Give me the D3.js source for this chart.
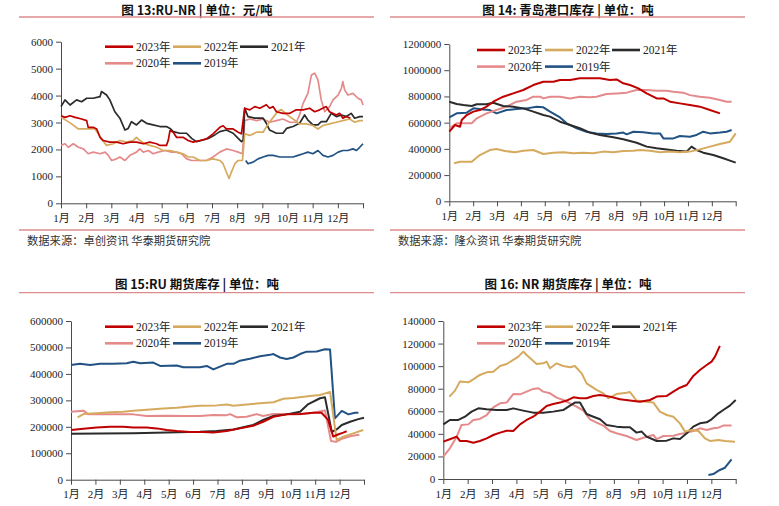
<!DOCTYPE html>
<html><head><meta charset="utf-8">
<script src="https://cdn.jsdelivr.net/npm/d3@7"></script>
<style>
body{margin:0;background:#fff;}
svg{display:block;}
</style></head>
<body>
<svg id="c" width="779" height="506"></svg>
<script>
// ---------- DATA (x = month offset from 1月 start, y = value) ----------
const monthLabels = ["1月","2月","3月","4月","5月","6月","7月","8月","9月","10月","11月","12月"];
const seriesNames = ["2023年","2022年","2021年","2020年","2019年"];
const seriesColors = ["#c00000","#d6aa5e","#2b2b2b","#e58a8b","#215283"];

// Fig 13: RU-NR spread (元/吨)
const p1_2023 = [[0,3250],[0.16,3190],[0.36,3250],[0.56,3190],[0.82,3130],[1.02,3070],[1.08,2820],[1.28,2820],[1.42,2760],[1.55,2450],[1.68,2330],[1.94,2270],[2.21,2270],[2.47,2210],[2.74,2270],[3.0,2270],[3.27,2210],[3.53,2270],[3.8,2210],[3.93,2150],[4.19,2150],[4.26,2330],[4.33,2700],[4.46,2640],[4.59,2450],[4.85,2450],[5.05,2330],[5.25,2270],[5.52,2330],[5.78,2390],[6.04,2580],[6.31,2820],[6.44,2880],[6.57,2760],[6.84,2760],[7.04,2640],[7.17,2580],[7.3,3530],[7.5,3470],[7.7,3590],[7.9,3530],[8.16,3660],[8.29,3530],[8.43,3590],[8.56,3400],[8.82,3340],[9.09,3340],[9.35,3470],[9.62,3470],[9.88,3530],[10.08,3400],[10.28,3470],[10.54,3590],[10.67,3400],[10.94,3280],[11.07,3340],[11.2,3160],[11.34,3220],[11.5,3160]];
const p1_2022 = [[0,3190],[0.22,3070],[0.42,2950],[0.69,2760],[1.02,2760],[1.35,2760],[1.48,2580],[1.61,2390],[1.81,2150],[2.08,2210],[2.34,2330],[2.61,2270],[2.87,2330],[3.0,2450],[3.13,2330],[3.33,2210],[3.53,2150],[3.8,2080],[4.06,1960],[4.33,1960],[4.59,1900],[4.85,1840],[5.05,1720],[5.25,1720],[5.52,1590],[5.78,1590],[6.04,1650],[6.31,1590],[6.44,1470],[6.57,1160],[6.68,920],[6.77,1160],[6.91,1470],[7.04,1590],[7.21,1590],[7.3,2580],[7.5,2520],[7.77,2640],[8.03,2640],[8.23,2950],[8.43,3190],[8.63,3430],[8.76,3480],[8.96,3300],[9.22,3130],[9.48,2950],[9.75,2950],[10.01,2890],[10.21,2760],[10.41,2890],[10.67,2950],[10.94,3010],[11.2,3070],[11.47,3130],[11.67,3010],[11.87,3070],[12,3070]];
const p1_2021 = [[0,3590],[0.16,3840],[0.36,3650],[0.62,3840],[0.82,3770],[1.02,3900],[1.28,3900],[1.55,3960],[1.61,4150],[1.81,4020],[1.94,3840],[2.14,3400],[2.34,3160],[2.54,2720],[2.67,2780],[2.8,3030],[3.0,2910],[3.2,3090],[3.4,2970],[3.66,2910],[3.93,2850],[4.19,2850],[4.33,2780],[4.46,2660],[4.72,2600],[4.99,2600],[5.19,2410],[5.38,2290],[5.65,2350],[5.85,2410],[6.11,2540],[6.31,2660],[6.57,2720],[6.84,2600],[7.04,2410],[7.17,2290],[7.24,2350],[7.3,3530],[7.43,3220],[7.7,3160],[8.03,3160],[8.16,2970],[8.29,2720],[8.56,2600],[8.82,2600],[8.96,2780],[9.22,2850],[9.48,2970],[9.68,3280],[9.81,3090],[10.01,2910],[10.21,2910],[10.34,3030],[10.54,3030],[10.74,3340],[10.94,3220],[11.14,3280],[11.34,3220],[11.53,3340],[11.67,3160],[11.87,3220],[12,3220]];
const p1_2020 = [[0,2150],[0.16,2210],[0.29,2080],[0.49,2210],[0.69,2080],[0.89,2020],[1.08,1840],[1.28,1900],[1.55,1840],[1.75,1900],[1.88,1780],[2.01,1590],[2.21,1650],[2.34,1720],[2.54,1590],[2.74,1780],[2.87,1840],[3.0,1900],[3.13,2020],[3.27,1900],[3.47,1960],[3.66,1840],[3.86,1900],[4.13,1960],[4.39,1900],[4.59,1900],[4.79,1840],[4.99,1650],[5.19,1590],[5.45,1590],[5.78,1590],[6.04,1720],[6.31,1900],[6.57,2020],[6.84,1960],[7.04,1900],[7.21,1840],[7.3,3070],[7.5,3130],[7.77,3070],[8.03,3130],[8.29,3010],[8.56,3070],[8.82,3130],[9.09,3010],[9.35,3010],[9.48,3280],[9.62,3710],[9.81,4080],[9.95,4760],[10.08,4830],[10.21,4580],[10.34,3840],[10.48,3400],[10.67,3590],[10.81,3840],[11.01,4020],[11.14,4270],[11.2,4520],[11.27,4210],[11.4,4020],[11.6,4080],[11.8,3900],[11.93,3840],[12,3650]];
const p1_2019 = [[7.34,1590],[7.43,1470],[7.63,1530],[7.83,1650],[8.03,1720],[8.23,1780],[8.43,1780],[8.69,1720],[8.96,1720],[9.22,1720],[9.42,1780],[9.62,1840],[9.81,1900],[10.01,1840],[10.21,1960],[10.41,1780],[10.61,1720],[10.81,1780],[11.01,1900],[11.2,1960],[11.4,1960],[11.6,2020],[11.74,1960],[11.87,2080],[12,2210]];
const p1_yTicks = [0,1000,2000,3000,4000,5000,6000];

// Fig 14: Qingdao port inventory (吨)
const p2_2023 = [[0,531000],[0.24,582000],[0.45,569000],[0.52,620000],[0.73,658000],[1.01,684000],[1.28,696000],[1.56,722000],[1.84,760000],[2.26,798000],[2.68,823000],[3.1,849000],[3.52,887000],[3.94,912000],[4.36,912000],[4.64,925000],[5.06,925000],[5.47,938000],[5.89,938000],[6.31,938000],[6.73,925000],[7.01,930000],[7.29,900000],[7.57,887000],[7.92,861000],[8.27,823000],[8.69,785000],[8.97,785000],[9.25,760000],[9.66,747000],[10.08,734000],[10.5,722000],[10.92,696000],[11.34,671000]];
const p2_2022 = [[0.2,290000],[0.45,302000],[0.94,302000],[1.28,353000],[1.7,391000],[1.98,399000],[2.33,384000],[2.75,374000],[3.1,386000],[3.52,391000],[3.94,361000],[4.36,371000],[4.78,374000],[5.2,366000],[5.61,371000],[6.03,366000],[6.45,379000],[6.87,374000],[7.29,384000],[7.71,386000],[7.99,391000],[8.41,386000],[8.83,374000],[9.25,379000],[9.66,374000],[10.08,379000],[10.5,396000],[10.92,417000],[11.34,437000],[11.76,455000],[12,518000]];
const p2_2021 = [[0,760000],[0.31,742000],[0.59,734000],[0.94,727000],[1.15,740000],[1.56,740000],[1.84,752000],[2.26,727000],[2.68,722000],[3.1,709000],[3.52,684000],[3.94,658000],[4.22,646000],[4.64,607000],[5.06,582000],[5.47,557000],[5.89,524000],[6.31,506000],[6.87,488000],[7.29,473000],[7.85,447000],[8.27,417000],[8.69,404000],[9.11,396000],[9.53,386000],[9.94,379000],[10.15,417000],[10.36,391000],[10.64,371000],[11.06,353000],[11.48,328000],[11.76,310000],[12,295000]];
const p2_2020 = [[0,557000],[0.31,595000],[0.59,595000],[0.94,595000],[1.15,633000],[1.56,671000],[1.98,696000],[2.4,722000],[2.82,760000],[3.24,773000],[3.52,798000],[3.8,798000],[3.94,785000],[4.22,798000],[4.64,798000],[5.06,785000],[5.47,798000],[5.89,793000],[6.17,798000],[6.59,818000],[7.01,823000],[7.43,829000],[7.85,849000],[8.27,849000],[8.69,844000],[9.11,844000],[9.39,836000],[9.8,829000],[10.08,810000],[10.5,798000],[10.92,790000],[11.34,773000],[11.62,760000],[11.83,760000]];
const p2_2019 = [[0,640000],[0.31,671000],[0.73,676000],[1.01,709000],[1.43,701000],[1.7,696000],[1.98,671000],[2.4,696000],[2.82,704000],[3.24,709000],[3.66,722000],[3.94,717000],[4.22,684000],[4.64,640000],[4.92,595000],[5.34,557000],[5.75,531000],[6.17,518000],[6.59,513000],[7.01,518000],[7.29,524000],[7.43,511000],[7.71,531000],[8.13,526000],[8.55,518000],[8.83,518000],[8.97,480000],[9.39,480000],[9.66,498000],[10.08,493000],[10.36,506000],[10.64,531000],[10.92,518000],[11.34,524000],[11.62,531000],[11.83,544000]];
const p2_yTicks = [0,200000,400000,600000,800000,1000000,1200000];

// Fig 15: RU futures inventory (吨)
const p3_2023 = [[0,188000],[0.51,193000],[1.05,197000],[1.6,200000],[2.14,200000],[2.55,197000],[3.1,197000],[3.51,194000],[3.92,188000],[4.33,184000],[4.87,180000],[5.42,180000],[5.83,178000],[6.38,184000],[6.92,194000],[7.46,204000],[7.87,219000],[8.29,238000],[8.83,247000],[9.38,248000],[9.92,253000],[10.26,253000],[10.53,226000],[10.74,163000],[10.88,169000],[11.15,178000],[11.29,183000]];
const p3_2022 = [[0.27,236000],[0.51,248000],[1.05,251000],[1.6,255000],[2.14,257000],[2.55,261000],[3.1,264000],[3.78,269000],[4.33,272000],[4.74,276000],[5.28,280000],[5.96,281000],[6.38,284000],[6.65,280000],[7.19,284000],[7.74,289000],[8.29,293000],[8.7,306000],[9.11,309000],[9.79,316000],[10.2,320000],[10.61,332000],[10.88,150000],[11.15,163000],[11.56,175000],[11.97,188000]];
const p3_2021 = [[0,174000],[1.19,175000],[2.55,176000],[3.92,178000],[5.28,181000],[5.96,184000],[6.65,190000],[7.46,207000],[7.87,226000],[8.29,241000],[8.83,247000],[9.38,257000],[9.72,286000],[10.2,308000],[10.4,312000],[10.68,181000],[10.88,190000],[11.09,207000],[11.43,219000],[11.77,229000],[12,234000]];
const p3_2020 = [[0,257000],[0.51,261000],[0.71,247000],[1.19,247000],[1.87,247000],[2.55,247000],[3.1,241000],[3.92,242000],[4.74,241000],[5.28,241000],[5.83,245000],[6.38,244000],[6.52,248000],[6.79,236000],[7.19,238000],[7.6,248000],[7.87,241000],[8.29,248000],[8.83,248000],[9.38,247000],[9.92,253000],[10.4,262000],[10.65,146000],[10.85,143000],[11.13,156000],[11.47,165000],[11.81,170000]];
const p3_2019 = [[0,434000],[0.37,438000],[0.78,434000],[1.19,438000],[1.73,438000],[2.28,440000],[2.55,446000],[2.83,440000],[3.37,443000],[3.65,430000],[4.33,432000],[4.6,425000],[5.28,425000],[5.56,430000],[5.83,417000],[6.38,438000],[6.65,438000],[6.92,450000],[7.33,457000],[7.74,467000],[8.15,472000],[8.29,475000],[8.56,462000],[8.83,456000],[9.11,462000],[9.38,475000],[9.65,484000],[10.06,485000],[10.4,493000],[10.61,492000],[10.81,232000],[11.09,260000],[11.36,247000],[11.63,253000],[11.77,253000]];
const p3_yTicks = [0,100000,200000,300000,400000,500000,600000];

// Fig 16: NR futures inventory (吨)
const p4_2023 = [[0,33100],[0.27,35200],[0.55,37500],[0.68,33700],[0.96,33700],[1.23,32200],[1.5,33700],[1.78,36000],[2.05,39000],[2.33,41100],[2.6,42800],[2.87,42500],[3.15,48400],[3.42,52300],[3.69,55200],[3.97,59700],[4.24,64700],[4.51,66500],[4.79,67700],[5.06,69500],[5.34,72400],[5.61,71500],[5.88,71500],[6.16,73600],[6.43,74500],[6.84,73000],[7.25,70600],[7.66,69500],[8.07,68500],[8.48,70000],[8.76,73000],[9.17,73600],[9.44,77400],[9.71,80900],[9.99,83300],[10.26,91300],[10.53,96600],[10.81,101000],[11.01,104000],[11.15,108400],[11.35,117900]];
const p4_2022 = [[0.25,73000],[0.48,78300],[0.68,86300],[1.03,85700],[1.23,88300],[1.5,92200],[1.78,94500],[2.05,95100],[2.33,100100],[2.6,101900],[2.87,105500],[3.08,108400],[3.28,112900],[3.42,109900],[3.83,101900],[4.1,102500],[4.24,104000],[4.38,98100],[4.65,102500],[4.92,100100],[5.2,99000],[5.4,100100],[5.68,93600],[5.88,84700],[6.29,78900],[6.57,75900],[6.77,71500],[7.11,75300],[7.52,76500],[7.66,77100],[7.93,69500],[8.34,68500],[8.62,67700],[8.89,59700],[9.17,56700],[9.44,55200],[9.71,49300],[9.92,42000],[10.19,43500],[10.47,42500],[10.74,36000],[10.94,33700],[11.29,34600],[11.56,33700],[11.97,33100]];
const p4_2021 = [[0,48400],[0.27,52300],[0.62,52300],[0.89,55200],[1.16,59700],[1.44,62600],[1.78,61700],[2.19,61100],[2.6,61100],[2.87,62600],[3.28,60600],[3.69,58800],[4.1,58800],[4.51,59700],[4.92,61100],[5.2,65000],[5.4,67700],[5.61,67700],[5.88,57600],[6.16,55200],[6.43,52900],[6.7,47900],[7.11,46400],[7.39,45800],[7.66,45800],[7.93,41100],[8.14,42000],[8.34,37500],[8.76,33700],[9.17,34000],[9.44,36000],[9.71,35400],[9.99,40500],[10.26,46400],[10.53,49300],[10.81,50200],[11.01,52900],[11.29,58200],[11.49,61100],[11.76,65000],[12,70000]];
const p4_2020 = [[0,19800],[0.27,27200],[0.55,37500],[0.75,47900],[1.03,48400],[1.23,52300],[1.5,53200],[1.78,56700],[2.05,63500],[2.33,67100],[2.6,67700],[2.87,75300],[3.15,75000],[3.42,77400],[3.69,79800],[3.9,80400],[4.1,77400],[4.38,75900],[4.65,72100],[4.92,70000],[5.2,67100],[5.47,64100],[5.75,60600],[6.02,52900],[6.29,50000],[6.57,47300],[6.84,42500],[7.11,40500],[7.52,38100],[7.93,34600],[8.21,36600],[8.62,39000],[8.76,35400],[9.03,38100],[9.44,38400],[9.71,39900],[9.99,41100],[10.26,42500],[10.53,44900],[10.81,43500],[11.08,44900],[11.29,45500],[11.49,47300],[11.83,47300]];
const p4_2019 = [[10.88,3500],[11.08,4400],[11.35,8000],[11.56,10000],[11.83,17400]];
const p4_yTicks = [0,20000,40000,60000,80000,100000,120000,140000];

const titles = ["图 13:RU-NR | 单位：元/吨","图 14: 青岛港口库存 | 单位：吨","图 15:RU 期货库存 | 单位：吨","图 16: NR 期货库存 | 单位：吨"];
const sources = ["数据来源：卓创资讯  华泰期货研究院","数据来源：隆众资讯  华泰期货研究院"];

// ---------- LAYOUT ----------
const panels = [
  {title:titles[0], series:[p1_2023,p1_2022,p1_2021,p1_2020,p1_2019], ticks:p1_yTicks, x0:61, x1:363, yT:41.7, yB:203.3, cx:197, ty:14.5, lineY:17, lx0:19, lx1:374, src:sources[0], srcX:27, legX:105, legY:46.7, sw:1.7},
  {title:titles[1], series:[p2_2023,p2_2022,p2_2021,p2_2020,p2_2019], ticks:p2_yTicks, x0:449.3, x1:735.7, yT:44, yB:201.3, cx:568, ty:14.5, lineY:17, lx0:390, lx1:745, src:sources[1], srcX:398, legX:477, legY:50, sw:2},
  {title:titles[2], series:[p3_2023,p3_2022,p3_2021,p3_2020,p3_2019], ticks:p3_yTicks, x0:71, x1:364, yT:321, yB:479.7, cx:197, ty:289, lineY:292.7, lx0:19, lx1:374, src:null, legX:105, legY:326.7, sw:2},
  {title:titles[3], series:[p4_2023,p4_2022,p4_2021,p4_2020,p4_2019], ticks:p4_yTicks, x0:443.3, x1:735.7, yT:321, yB:479, cx:568, ty:289, lineY:292.7, lx0:390, lx1:745, src:null, legX:477, legY:326.7, sw:2}
];

const svg = d3.select("#c");
const serif = "'Liberation Serif','Times New Roman','Noto Sans CJK SC',serif";
const cjk = "'Noto Sans CJK SC','Noto Sans',sans-serif";
const axisColor = "#4a4a4a";

panels.forEach(p => {
  const g = svg.append("g");
  // title
  g.append("text").attr("x", p.cx).attr("y", p.ty).attr("text-anchor","middle")
    .attr("font-family", cjk).attr("font-weight","bold").attr("font-size",12.5).attr("fill","#111")
    .text(p.title);
  g.append("line").attr("x1",p.lx0).attr("x2",p.lx1).attr("y1",p.lineY).attr("y2",p.lineY)
    .attr("stroke","#dc8c8c").attr("stroke-width",1.3);
  if (p.src) {
    g.append("line").attr("x1",p.lx0).attr("x2",p.lx1).attr("y1",230).attr("y2",230)
      .attr("stroke","#dc8c8c").attr("stroke-width",1.3);
    g.append("text").attr("x", p.srcX).attr("y", 245).attr("font-family", cjk)
      .attr("font-size",11.3).attr("fill","#333").text(p.src);
  }

  const x = d3.scaleLinear().domain([0,12]).range([p.x0, p.x1]);
  const ymax = p.ticks[p.ticks.length-1];
  const y = d3.scaleLinear().domain([0, ymax]).range([p.yB, p.yT]);

  const ya = g.append("g").attr("transform",`translate(${p.x0},0)`)
    .call(d3.axisLeft(y).tickValues(p.ticks).tickSize(5).tickSizeOuter(0).tickPadding(3).tickFormat(d3.format("d")));
  const xa = g.append("g").attr("transform",`translate(0,${p.yB})`)
    .call(d3.axisBottom(x).tickValues(d3.range(0,13)).tickSize(5).tickSizeOuter(0).tickPadding(6)
      .tickFormat(d => d < 12 ? monthLabels[d] : ""));
  [ya, xa].forEach(a => {
    a.selectAll("path,line").attr("stroke", axisColor).attr("stroke-width",1);
    a.selectAll("text").attr("font-family", serif).attr("font-size",11).attr("fill","#222");
  });

  const line = d3.line().x(d => x(d[0])).y(d => y(d[1]));
  // draw in reverse so 2023 ends on top
  for (let i = p.series.length-1; i >= 0; i--) {
    g.append("path").datum(p.series[i]).attr("d", line).attr("fill","none")
      .attr("stroke", seriesColors[i]).attr("stroke-width", p.sw).attr("stroke-linejoin","round");
  }

  // legend
  const colX = [0, 68, 135];
  seriesNames.forEach((nm, i) => {
    const col = i < 3 ? i : i - 3;
    const row = i < 3 ? 0 : 1;
    const lx = p.legX + colX[col];
    const ly = p.legY + row * 16.6;
    g.append("line").attr("x1", lx).attr("x2", lx + 28).attr("y1", ly).attr("y2", ly)
      .attr("stroke", seriesColors[i]).attr("stroke-width", 2.6);
    g.append("text").attr("x", lx + 31).attr("y", ly + 4).attr("font-family", serif)
      .attr("font-size", 11.5).attr("fill","#222").text(nm);
  });
});
</script>
</body></html>
